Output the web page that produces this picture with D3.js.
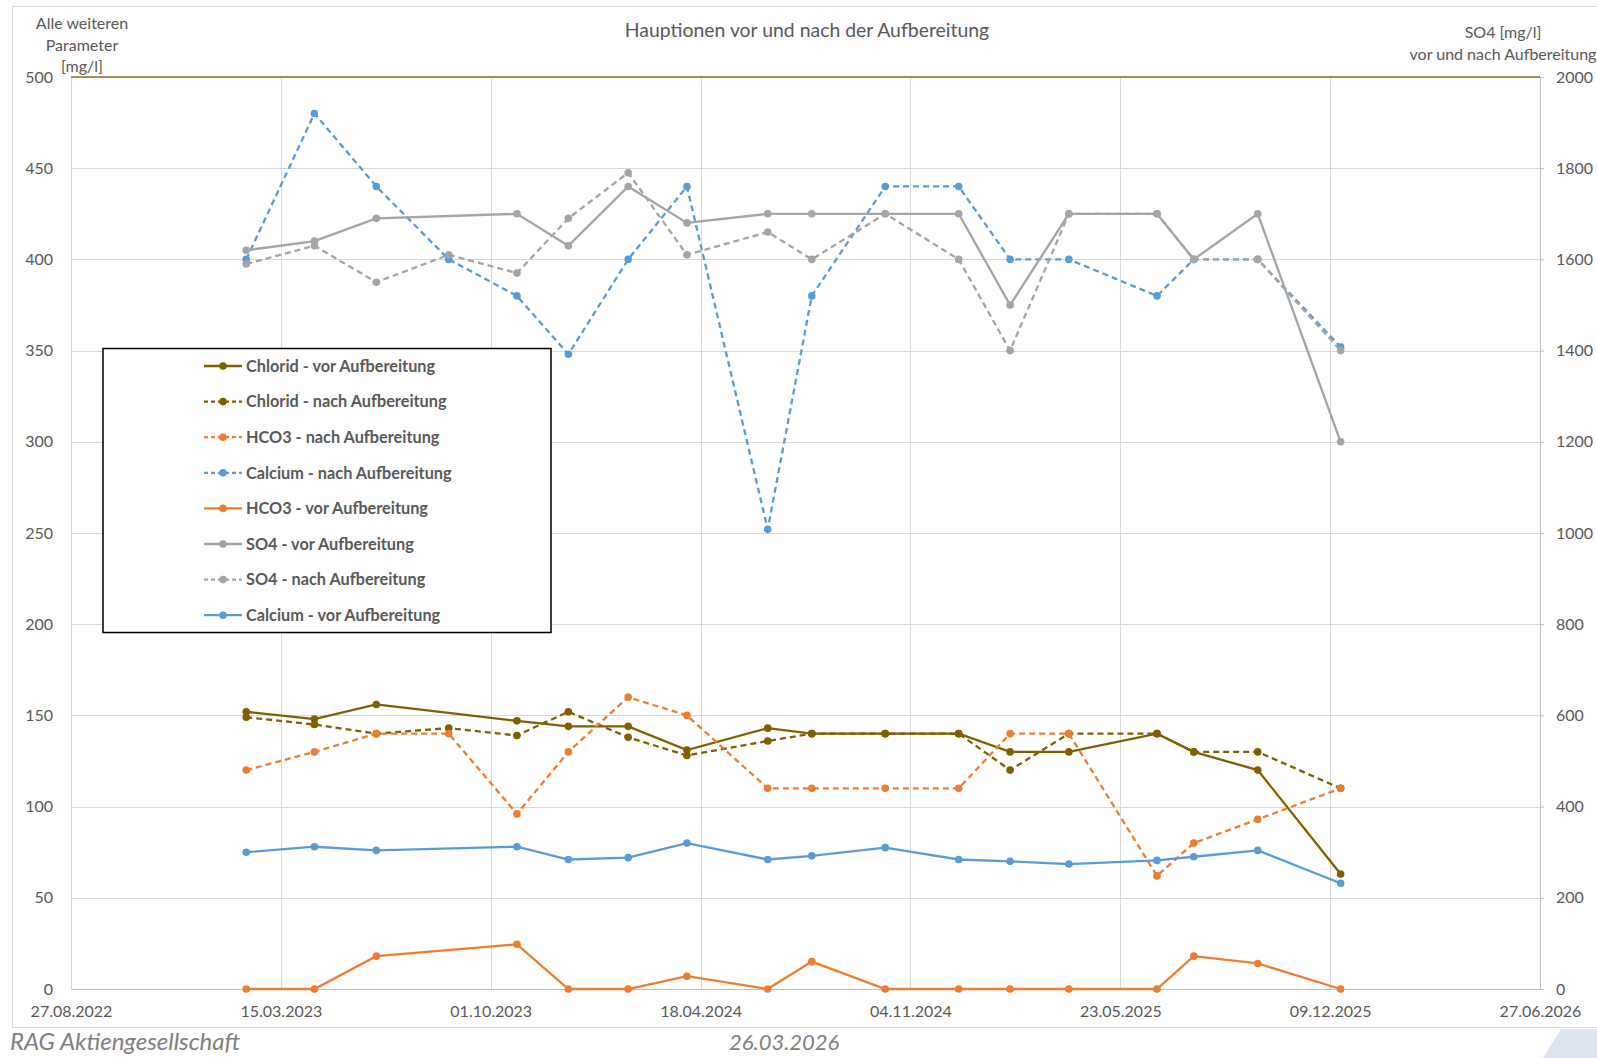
<!DOCTYPE html>
<html>
<head>
    <meta charset="UTF-8">
    <title>Hauptionen vor und nach der Aufbereitung</title>
    <style>
        body { margin: 0; background: #fff; }
        text { font-family: Lato, 'Open Sans', sans-serif; fill: #595959; }
        .grid line { stroke: #d9d9d9; stroke-width: 1; }
        .axis path, .axis line { stroke: #bfbfbf; }
        .axis text { font-size: 16px; fill: #595959; font-family: Lato, sans-serif; }
        .legend text { font-size: 16.3px; font-weight: bold; }
        .footer { font-style: italic; fill: #808080; }
    </style>
</head>
<body>
<script src="https://cdn.jsdelivr.net/npm/d3@7"></script>
<script>
    /// data
    var dates = ["2023-02-10", "2023-04-16", "2023-06-14", "2023-08-22", "2023-10-26", "2023-12-14",
                 "2024-02-09", "2024-04-05", "2024-06-21", "2024-08-02", "2024-10-11", "2024-12-20",
                 "2025-02-07", "2025-04-04", "2025-06-27", "2025-08-01", "2025-10-01", "2025-12-19"];

    var chloridVor  = [152, 148, 156, null, 147, 144, 144, 131, 143, 140, 140, 140, 130, 130, 140, 130, 120, 63];
    var chloridNach = [149, 145, 140, 143, 139, 152, 138, 128, 136, 140, 140, 140, 120, 140, 140, 130, 130, 110];
    var hco3Nach    = [120, 130, 140, 140, 96, 130, 160, 150, 110, 110, 110, 110, 140, 140, 62, 80, 93, 110];
    var calciumNach = [400, 480, 440, 400, 380, 348, 400, 440, 252, 380, 440, 440, 400, 400, 380, 400, 400, 352];
    var hco3Vor     = [0, 0, 18, null, 24.5, 0, 0, 7, 0, 15, 0, 0, 0, 0, 0, 18, 14, 0];
    var so4Vor      = [1620, 1640, 1690, null, 1700, 1630, 1760, 1680, 1700, 1700, 1700, 1700, 1500, 1700, 1700, 1600, 1700, 1200];
    var so4Nach     = [1590, 1630, 1550, 1610, 1570, 1690, 1790, 1610, 1660, 1600, 1700, 1600, 1400, 1700, 1700, 1600, 1600, 1400];
    var calciumVor  = [75, 78, 76, null, 78, 71, 72, 80, 71, 73, 77.5, 71, 70, 68.5, 70.5, 72.5, 76, 58];

    var xStart = "2022-08-27", xEnd = "2026-06-27", xStepDays = 200;
    var leftTicks = [0, 50, 100, 150, 200, 250, 300, 350, 400, 450, 500];
    var rightTicks = [0, 200, 400, 600, 800, 1000, 1200, 1400, 1600, 1800, 2000];

    var olive = "#7f6000", orange = "#ed7d31", blue = "#5b9bd5", grey = "#a5a5a5";

    // legend order; SO4 (right axis) is drawn last
    var series = [
        { name: "Chlorid - vor Aufbereitung", values: chloridVor, color: olive, dashed: false, axis: "left" },
        { name: "Chlorid - nach Aufbereitung", values: chloridNach, color: olive, dashed: true, axis: "left" },
        { name: "HCO3 - nach Aufbereitung", values: hco3Nach, color: orange, dashed: true, axis: "left" },
        { name: "Calcium - nach Aufbereitung", values: calciumNach, color: blue, dashed: true, axis: "left" },
        { name: "HCO3 - vor Aufbereitung", values: hco3Vor, color: orange, dashed: false, axis: "left" },
        { name: "SO4 - vor Aufbereitung", values: so4Vor, color: grey, dashed: false, axis: "right" },
        { name: "SO4 - nach Aufbereitung", values: so4Nach, color: grey, dashed: true, axis: "right" },
        { name: "Calcium - vor Aufbereitung", values: calciumVor, color: blue, dashed: false, axis: "left" }
    ];
    var drawOrder = [0, 1, 2, 3, 4, 7, 5, 6];

    /// layout
    var width = 1597, height = 1058;
    var plot = { left: 71, right: 1540, top: 77, bottom: 989 };
    var dash = "6,4";

    var parse = d3.utcParse("%Y-%m-%d");
    var fmt = d3.utcFormat("%d.%m.%Y");

    var x = d3.scaleUtc()
        .domain([parse(xStart), parse(xEnd)])
        .range([plot.left, plot.right]);
    var yL = d3.scaleLinear().domain([0, 500]).range([plot.bottom, plot.top]);
    var yR = d3.scaleLinear().domain([0, 2000]).range([plot.bottom, plot.top]);

    var xTicks = d3.range(0, 8).map(function(i) { return d3.utcDay.offset(parse(xStart), i * xStepDays); });

    var svg = d3.select("body").append("svg")
        .attr("width", width)
        .attr("height", height);

    svg.append("rect").attr("width", width).attr("height", height).attr("fill", "#fff");

    // chart frame
    svg.append("rect")
        .attr("x", 12.5).attr("y", 6.5)
        .attr("width", width).attr("height", 1021)
        .attr("fill", "none").attr("stroke", "#d9d9d9");

    // grid
    var grid = svg.append("g").attr("class", "grid");
    grid.selectAll(".h").data(leftTicks).enter().append("line")
        .attr("x1", plot.left).attr("x2", plot.right)
        .attr("y1", function(d) { return Math.round(yL(d)) + 0.5; })
        .attr("y2", function(d) { return Math.round(yL(d)) + 0.5; });
    grid.selectAll(".v").data(xTicks).enter().append("line")
        .attr("x1", function(d) { return Math.round(x(d)) + 0.5; })
        .attr("x2", function(d) { return Math.round(x(d)) + 0.5; })
        .attr("y1", plot.top).attr("y2", plot.bottom);

    // axes
    svg.append("g").attr("class", "axis")
        .attr("transform", "translate(0," + plot.bottom + ")")
        .call(d3.axisBottom(x).tickValues(xTicks).tickFormat(fmt).tickSize(0).tickPadding(17))
        .call(function(g) { g.select(".domain").attr("stroke", "#bfbfbf"); });

    svg.append("g").attr("class", "axis")
        .attr("transform", "translate(" + plot.left + ",0)")
        .call(d3.axisLeft(yL).tickValues(leftTicks).tickSize(0).tickPadding(18))
        .call(function(g) { g.select(".domain").remove(); });

    svg.append("g").attr("class", "axis")
        .attr("transform", "translate(" + plot.right + ",0)")
        .call(d3.axisRight(yR).tickValues(rightTicks).tickFormat(d3.format("d"))
            .tickSizeInner(4).tickSizeOuter(0).tickPadding(12));

    // olive top border
    svg.append("line")
        .attr("x1", plot.left).attr("x2", plot.right)
        .attr("y1", plot.top).attr("y2", plot.top)
        .attr("stroke", "#8a7426").attr("stroke-width", 1.5);

    // series
    var lines = svg.append("g").attr("class", "series");
    drawOrder.forEach(function(i) {
        var s = series[i];
        var y = s.axis === "left" ? yL : yR;
        var pts = dates.map(function(d, j) { return { date: parse(d), value: s.values[j] }; })
            .filter(function(p) { return p.value !== null; });
        var line = d3.line()
            .x(function(p) { return x(p.date); })
            .y(function(p) { return y(p.value); });
        lines.append("path")
            .datum(pts)
            .attr("d", line)
            .attr("fill", "none")
            .attr("stroke", s.color)
            .attr("stroke-width", 2.3)
            .attr("stroke-dasharray", s.dashed ? dash : null);
        lines.append("g").selectAll("circle").data(pts).enter().append("circle")
            .attr("cx", function(p) { return x(p.date); })
            .attr("cy", function(p) { return y(p.value); })
            .attr("r", 3.8)
            .attr("fill", s.color);
    });

    // legend
    var legend = svg.append("g").attr("class", "legend");
    legend.append("rect")
        .attr("x", 103).attr("y", 348.5)
        .attr("width", 448).attr("height", 284)
        .attr("fill", "#fff").attr("stroke", "#000").attr("stroke-width", 1.5);
    var item = legend.selectAll(".item").data(series).enter().append("g")
        .attr("transform", function(d, i) { return "translate(0," + (366 + i * 35.6) + ")"; });
    item.append("line")
        .attr("x1", 204).attr("x2", 242)
        .attr("stroke", function(d) { return d.color; })
        .attr("stroke-width", 2.3)
        .attr("stroke-dasharray", function(d) { return d.dashed ? "4,3" : null; });
    item.append("circle").attr("cx", 223).attr("r", 3.8).attr("fill", function(d) { return d.color; });
    item.append("text")
        .attr("x", 246).attr("dy", "0.35em")
        .text(function(d) { return d.name; });

    // titles
    svg.append("text")
        .attr("x", 807).attr("y", 37)
        .attr("text-anchor", "middle")
        .style("font-size", "19.4px")
        .text("Hauptionen vor und nach der Aufbereitung");

    var leftTitle = ["Alle weiteren", "Parameter", "[mg/l]"];
    svg.append("g").selectAll("text").data(leftTitle).enter().append("text")
        .attr("x", 82).attr("y", function(d, i) { return 29 + i * 21.5; })
        .attr("text-anchor", "middle")
        .style("font-size", "16px")
        .text(function(d) { return d; });

    var rightTitle = ["SO4 [mg/l]", "vor und nach Aufbereitung"];
    svg.append("g").selectAll("text").data(rightTitle).enter().append("text")
        .attr("x", 1503).attr("y", function(d, i) { return 38 + i * 21.5; })
        .attr("text-anchor", "middle")
        .style("font-size", "16px")
        .text(function(d) { return d; });

    // footer
    svg.append("text").attr("class", "footer")
        .attr("x", 10).attr("y", 1050)
        .style("font-size", "24px")
        .text("RAG Aktiengesellschaft");
    svg.append("text").attr("class", "footer")
        .attr("x", 729).attr("y", 1050)
        .style("font-size", "22px")
        .text("26.03.2026");
    svg.append("polygon")
        .attr("points", "1543,1058 1561,1029 1597,1029 1597,1058")
        .attr("fill", "#dce4ef");
</script>
</body>
</html>
